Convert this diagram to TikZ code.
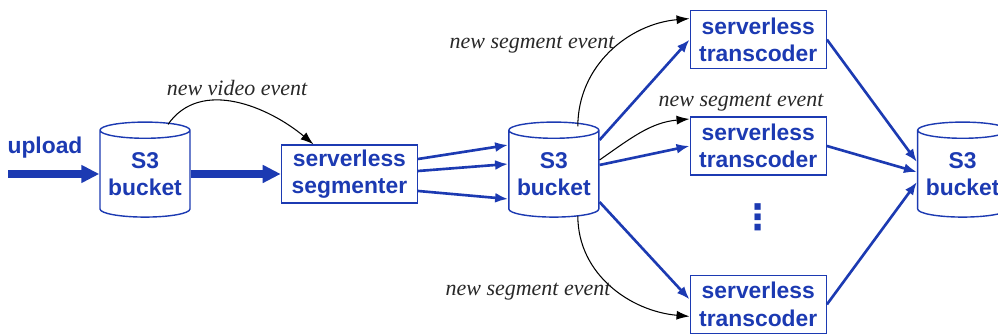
\documentclass[tikz,border=0pt]{standalone}
\usepackage{fontspec}
\setmainfont{Liberation Serif}
\setsansfont{Liberation Sans}
\newfontfamily\dotsfont{DejaVu Sans}
\usetikzlibrary{
    arrows.meta,
    positioning,
    shapes.geometric,
    calc
}
\definecolor{lambdablue}{RGB}{28,58,178}
\definecolor{eventgray}{RGB}{40,40,40}

\begin{document}
\begin{tikzpicture}[
        node distance=1.8cm,
        bucket/.style={
            cylinder,
            shape border rotate=90,
            shape aspect=0.22,
            draw=lambdablue,
            thick,
            fill=white,
            text=lambdablue,
            font=\sffamily\bfseries\fontsize{13}{15.5}\selectfont,
            align=center,
            minimum width=1.8cm,
            minimum height=1.9cm,
            inner sep=0pt
        },
        fn/.style={
            draw=lambdablue,
            thick,
            text=lambdablue,
            font=\sffamily\bfseries\fontsize{13}{15.5}\selectfont,
            align=center,
            minimum width=2.72cm,
            minimum height=1.16cm,
            inner sep=2pt
        },
        flow/.style={
            -{Latex[length=2.6mm,width=2mm]},
            line width=1.5pt,
            draw=lambdablue
        },
        bigflow/.style={
            -{Triangle[length=3.6mm,width=3.4mm]},
            line width=4.5pt,
            draw=lambdablue
        },
        event/.style={
            -{Latex[length=2.6mm,width=1.8mm]},
            semithick,
            draw=black
        },
        evlabel/.style={
            font=\itshape\fontsize{12.5}{14}\selectfont,
            text=eventgray
        }
    ]

    \useasboundingbox (0,0) rectangle (19.96,6.68);

    \node[bucket] (b1) at (2.9,3.2) {S3\\bucket};
    \node[fn, right=of b1] (seg) {serverless\\segmenter};
    \node[bucket, right=of seg] (b2) {S3\\bucket};

    \node[fn, right=of b2, yshift=0.56cm] (tc2) {serverless\\transcoder};
    \node[fn, above=0.94cm of tc2] (tc1) {serverless\\transcoder};
    \node[fn, below=1.98cm of tc2] (tc3) {serverless\\transcoder};
    \node[text=lambdablue, font=\dotsfont\bfseries\fontsize{20}{20}\selectfont] (dots) at ($(tc2.south)!0.42!(tc3.north)$) {⋮};

    \node[bucket, right=of tc2, yshift=-0.56cm] (b3) {S3\\bucket};

    % input side
    \coordinate (upstart) at (0.16,3.2);
    \node[text=lambdablue, font=\sffamily\bfseries\fontsize{13}{15.5}\selectfont] (uplabel) at (0.9,3.72) {upload};
    \draw[bigflow] (upstart) -- (b1.west);
    \draw[bigflow] (b1.east) -- (seg.west);

    \draw[event] ([xshift=0.46cm,yshift=-0.06cm]b1.north) to[out=55,in=140] ([xshift=-0.72cm]seg.north);
    \node[evlabel] (lbvideo) at (4.74,4.92) {new video event};

    % segments into the bucket
    \draw[flow] ([yshift=0.3cm]seg.east) -- ([yshift=0.58cm]b2.west);
    \draw[flow] ([yshift=0.06cm]seg.east) -- ([yshift=0.2cm]b2.west);
    \draw[flow] ([yshift=-0.34cm]seg.east) -- ([yshift=-0.5cm]b2.west);

    % fan out to transcoders
    \draw[flow] ([yshift=0.68cm]b2.east) -- (tc1.west);
    \draw[flow] ([yshift=0.18cm]b2.east) -- (tc2.west);
    \draw[flow] ([yshift=-0.56cm]b2.east) -- ([yshift=0.1cm]tc3.west);

    \draw[event] ([xshift=0.48cm,yshift=-0.1cm]b2.north) to[out=90,in=185] ([yshift=0.42cm]tc1.west);
    \draw[event] ([yshift=0.28cm]b2.east) to[out=35,in=185] ([yshift=0.54cm]tc2.west);
    \draw[event] ([xshift=0.48cm,yshift=0.04cm]b2.south) to[out=-90,in=175] ([yshift=-0.24cm]tc3.west);

    \node[evlabel] (lbseg1) at (10.64,5.78) {new segment event};
    \node[evlabel] (lbseg2) at (14.82,4.62) {new segment event};
    \node[evlabel] (lbseg3) at (10.56,0.84) {new segment event};

    % into the output bucket
    \draw[flow] (tc1.east) -- ([yshift=0.24cm]b3.west);
    \draw[flow] (tc2.east) -- ([yshift=0.04cm]b3.west);
    \draw[flow] (tc3.east) -- ([yshift=-0.16cm]b3.west);

\end{tikzpicture}
\end{document}
